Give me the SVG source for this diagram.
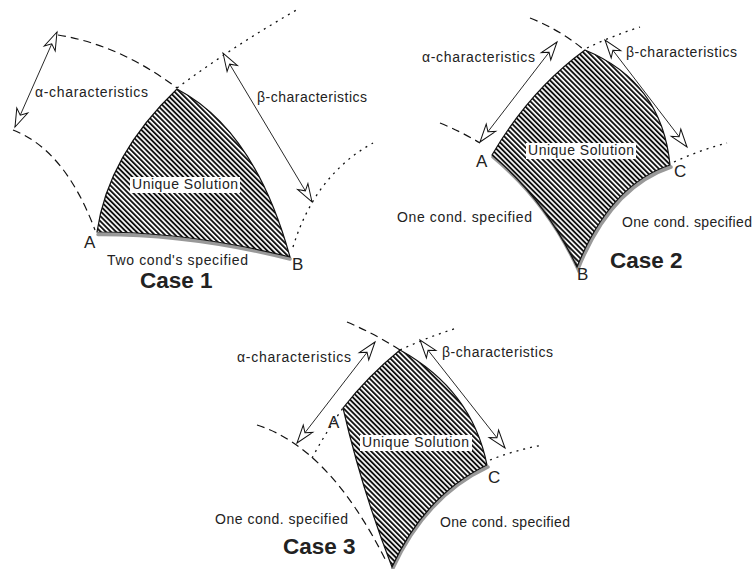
<svg xmlns="http://www.w3.org/2000/svg" width="756" height="569" viewBox="0 0 756 569">
<defs>
<pattern id="hatch" width="3.6" height="10" patternUnits="userSpaceOnUse" patternTransform="rotate(-45)">
<rect x="0" y="0" width="1.9" height="10" fill="#111"/>
</pattern>
<marker id="oa" viewBox="-21 -8 23 16" markerWidth="23" markerHeight="16" refX="0" refY="0" orient="auto-start-reverse" markerUnits="userSpaceOnUse">
<path d="M0,0 L-18,-6 L-13,0 L-18,6 Z" fill="#fff" stroke="#111" stroke-width="1" stroke-linejoin="miter"/>
</marker>
</defs>
<style>
.region{fill:url(#hatch);stroke:#111;stroke-width:1.2}
.bc{fill:none;stroke:#999;stroke-width:3.5;stroke-linecap:round}
.alpha{fill:none;stroke:#111;stroke-width:1.2;stroke-dasharray:8 5}
.beta{fill:none;stroke:#111;stroke-width:1.3;stroke-dasharray:2 5}
.arrow{fill:none;stroke:#111;stroke-width:0.9;marker-start:url(#oa);marker-end:url(#oa)}
text{font-family:"Liberation Sans",Arial,sans-serif;fill:#222}
.lbl{font-size:14px}
.pt{font-size:17px}
.case{font-size:22.5px;font-weight:bold}
.bg{fill:#fff}
</style>

<g id="case1">
<g id="case1-region">
<path class="bc" d="M98,234.5 Q190,234 290,259"/>
<path class="region" d="M97,232 Q108,155 177,89 Q255,130 290,257 Q190,232 97,232 Z"/>
</g>
<g id="case1-connectors">
<path class="alpha" d="M58,35 Q120,45 177,88"/>
<path class="alpha" d="M13,130 Q65,150 95,230"/>
<path class="beta" d="M177,88 Q235,45 300,8"/>
<path class="beta" d="M293,247 Q315,175 373,143"/>
<line class="arrow" x1="57" y1="32" x2="15" y2="127"/>
<line class="arrow" x1="223" y1="53" x2="312" y2="202"/>
</g>
<g id="case1-labels">
<text class="lbl" x="35" y="97" textLength="113" lengthAdjust="spacing">α-characteristics</text>
<text class="lbl" x="257" y="102" textLength="110" lengthAdjust="spacing">β-characteristics</text>
<rect class="bg" x="130" y="177" width="110" height="16"/>
<text class="lbl" x="132" y="189" textLength="106" lengthAdjust="spacing">Unique Solution</text>
<text class="pt" x="84" y="248">A</text>
<text class="pt" x="292" y="270">B</text>
<text class="lbl" x="107" y="265" textLength="141" lengthAdjust="spacing">Two cond's specified</text>
<text class="case" x="140" y="288">Case 1</text>
</g>
</g>

<g id="case2">
<g id="case2-region">
<path class="bc" d="M493,157 Q547,202 578,269 Q611,187 671,167"/>
<path class="region" d="M492,155 Q530,90 585,50 Q662,82 670,165 Q610,185 577,267 Q545,200 492,155 Z"/>
</g>
<g id="case2-connectors">
<path class="alpha" d="M530,18 Q560,30 583,49"/>
<path class="alpha" d="M440,123 Q462,132 480,143"/>
<path class="beta" d="M587,48 Q612,36 640,27"/>
<path class="beta" d="M674,162 Q700,150 727,143"/>
<line class="arrow" x1="557" y1="42" x2="480" y2="142"/>
<line class="arrow" x1="605" y1="40" x2="687" y2="147"/>
</g>
<g id="case2-labels">
<text class="lbl" x="422" y="62" textLength="113" lengthAdjust="spacing">α-characteristics</text>
<text class="lbl" x="626" y="57" textLength="111" lengthAdjust="spacing">β-characteristics</text>
<rect class="bg" x="526" y="143" width="110" height="16"/>
<text class="lbl" x="528" y="155" textLength="106" lengthAdjust="spacing">Unique Solution</text>
<text class="pt" x="476" y="167">A</text>
<text class="pt" x="674" y="177">C</text>
<text class="pt" x="577" y="280">B</text>
<text class="lbl" x="397" y="222" textLength="135" lengthAdjust="spacing">One cond. specified</text>
<text class="lbl" x="622" y="227" textLength="130" lengthAdjust="spacing">One cond. specified</text>
<text class="case" x="610" y="268">Case 2</text>
</g>
</g>

<g id="case3">
<g id="case3-region">
<path class="bc" d="M488,467 Q426,496 393,568"/>
<path class="region" d="M343,408 Q368,376 400,350 Q472,390 487,465 Q425,495 392,567 Q362,490 343,408 Z"/>
</g>
<g id="case3-connectors">
<path class="alpha" d="M347,322 Q375,334 400,350"/>
<path class="alpha" d="M257,425 Q330,448 387,563"/>
<path class="beta" d="M400,350 Q428,337 457,328"/>
<path class="beta" d="M312,458 Q326,432 343,408"/>
<path class="beta" d="M490,460 Q515,450 543,445"/>
<line class="arrow" x1="375" y1="342" x2="297" y2="443"/>
<line class="arrow" x1="420" y1="340" x2="505" y2="448"/>
</g>
<g id="case3-labels">
<text class="lbl" x="237" y="362" textLength="114" lengthAdjust="spacing">α-characteristics</text>
<text class="lbl" x="442" y="357" textLength="111" lengthAdjust="spacing">β-characteristics</text>
<rect class="bg" x="360" y="435" width="112" height="16"/>
<text class="lbl" x="362" y="447" textLength="107" lengthAdjust="spacing">Unique Solution</text>
<text class="pt" x="328" y="428">A</text>
<text class="pt" x="488" y="483">C</text>
<text class="lbl" x="215" y="524" textLength="133" lengthAdjust="spacing">One cond. specified</text>
<text class="lbl" x="440" y="527" textLength="130" lengthAdjust="spacing">One cond. specified</text>
<text class="case" x="283" y="554">Case 3</text>
</g>
</g>
</svg>
